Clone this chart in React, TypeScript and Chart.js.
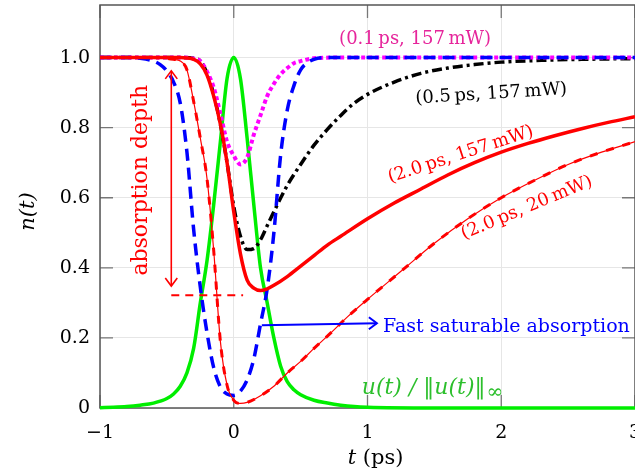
import React, { useEffect, useRef } from "react";
import { Chart, registerables } from "chart.js";

Chart.register(...registerables);

// ---------- data ----------
const tPulse = [-1, -0.9, -0.8, -0.7, -0.6, -0.5, -0.45, -0.4, -0.35, -0.3, -0.25, -0.2, -0.15, -0.1, -0.05, 0, 0.05, 0.1, 0.15, 0.2, 0.25, 0.3, 0.35, 0.4, 0.45, 0.5, 0.6, 0.7, 0.8, 0.9, 1.0, 1.5, 2, 2.5, 3];
const nPulse = [0.001, 0.002, 0.004, 0.008, 0.014, 0.027, 0.04, 0.062, 0.1, 0.17, 0.3, 0.42, 0.58, 0.76, 0.94, 1.0, 0.94, 0.77, 0.58, 0.4, 0.3, 0.2, 0.12, 0.075, 0.052, 0.038, 0.022, 0.014, 0.008, 0.004, 0.002, 0, 0, 0, 0];

const tFast = [-1, -0.8, -0.7, -0.6, -0.55, -0.5, -0.45, -0.4, -0.35, -0.3, -0.25, -0.2, -0.15, -0.1, -0.05, 0, 0.05, 0.1, 0.15, 0.2, 0.25, 0.3, 0.35, 0.4, 0.45, 0.5, 0.55, 0.6, 0.7, 1, 2, 3];
const nFast = [1, 1, 0.998, 0.99, 0.98, 0.962, 0.93, 0.87, 0.73, 0.51, 0.345, 0.215, 0.115, 0.06, 0.04, 0.036, 0.048, 0.08, 0.14, 0.24, 0.34, 0.5, 0.72, 0.85, 0.92, 0.965, 0.985, 0.995, 1, 1, 1, 1];

const t01 = [-1, -0.4, -0.3, -0.25, -0.2, -0.15, -0.1, -0.05, 0, 0.05, 0.1, 0.15, 0.2, 0.25, 0.3, 0.35, 0.4, 0.45, 0.5, 0.6, 0.8, 1, 2, 3];
const n01 = [1, 1, 0.997, 0.99, 0.96, 0.915, 0.84, 0.76, 0.72, 0.695, 0.715, 0.78, 0.835, 0.89, 0.925, 0.952, 0.97, 0.984, 0.99, 0.998, 1, 1, 1, 1];

const t05 = [-1, -0.4, -0.3, -0.25, -0.2, -0.15, -0.1, -0.05, 0, 0.05, 0.1, 0.15, 0.2, 0.25, 0.3, 0.4, 0.5, 0.6, 0.7, 0.8, 0.9, 1.0, 1.2, 1.4, 1.6, 1.8, 2.0, 2.3, 2.6, 3];
const n05 = [1, 1, 0.998, 0.99, 0.955, 0.895, 0.81, 0.7, 0.575, 0.49, 0.452, 0.455, 0.48, 0.52, 0.56, 0.635, 0.695, 0.75, 0.795, 0.835, 0.87, 0.895, 0.93, 0.955, 0.97, 0.98, 0.987, 0.992, 0.995, 0.997];

const t20a = [-1, -0.4, -0.35, -0.3, -0.25, -0.2, -0.15, -0.1, -0.05, 0, 0.05, 0.1, 0.15, 0.2, 0.25, 0.3, 0.4, 0.5, 0.6, 0.7, 0.8, 1.0, 1.2, 1.4, 1.6, 1.8, 2.0, 2.2, 2.4, 2.6, 2.8, 3];
const n20a = [1, 1, 0.999, 0.995, 0.982, 0.95, 0.89, 0.81, 0.7, 0.56, 0.44, 0.365, 0.342, 0.335, 0.34, 0.35, 0.375, 0.405, 0.435, 0.465, 0.49, 0.54, 0.585, 0.625, 0.665, 0.7, 0.73, 0.755, 0.777, 0.797, 0.815, 0.831];

const t20b = [-1, -0.6, -0.5, -0.45, -0.4, -0.35, -0.3, -0.25, -0.2, -0.15, -0.1, -0.05, 0, 0.05, 0.1, 0.2, 0.3, 0.4, 0.5, 0.6, 0.7, 0.85, 1.0, 1.25, 1.5, 1.75, 2.0, 2.25, 2.5, 2.75, 3];
const n20b = [1, 1, 0.998, 0.995, 0.99, 0.965, 0.875, 0.77, 0.655, 0.45, 0.19, 0.065, 0.022, 0.013, 0.016, 0.035, 0.062, 0.1, 0.133, 0.17, 0.205, 0.26, 0.31, 0.39, 0.47, 0.54, 0.6, 0.65, 0.695, 0.73, 0.76];

const xTicks = [-1, 0, 1, 2, 3];
const xTickLabels = ["\u22121", "0", "1", "2", "3"];
const yTicks = [0, 0.2, 0.4, 0.6, 0.8, 1.0];
const yTickLabels = ["0", "0.2", "0.4", "0.6", "0.8", "1.0"];

const FONT = '"DejaVu Serif"';

const pts = (xs: number[], ys: number[]) => xs.map((x, i) => ({ x, y: ys[i] }));

function arrowHead(ctx: CanvasRenderingContext2D, x: number, y: number, dir: number) {
  ctx.save();
  ctx.translate(x, y);
  ctx.rotate(dir);
  ctx.beginPath();
  ctx.moveTo(-8, -6);
  ctx.quadraticCurveTo(-2, -1.5, 0, 0);
  ctx.quadraticCurveTo(-2, 1.5, -8, 6);
  ctx.stroke();
  ctx.restore();
}

function rotText(ctx: CanvasRenderingContext2D, text: string, x: number, y: number, deg: number, font: string, color: string) {
  ctx.save();
  ctx.translate(x, y);
  ctx.rotate((deg * Math.PI) / 180);
  ctx.font = font;
  ctx.fillStyle = color;
  ctx.textAlign = "center";
  ctx.textBaseline = "middle";
  ctx.fillText(text, 0, 0);
  ctx.restore();
}

const annotPlugin = {
  id: "annot",
  beforeDatasetsDraw(chart: any) {
    const { ctx, chartArea: a, scales } = chart;
    const x = scales.x, y = scales.y;
    ctx.save();
    ctx.strokeStyle = "#777";
    ctx.lineWidth = 1.3;
    const L = 13;
    ctx.beginPath();
    xTicks.forEach((v) => {
      const p = x.getPixelForValue(v);
      ctx.moveTo(p, a.top); ctx.lineTo(p, a.top + L);
      ctx.moveTo(p, a.bottom); ctx.lineTo(p, a.bottom - L);
    });
    yTicks.forEach((v) => {
      const p = y.getPixelForValue(v);
      ctx.moveTo(a.left, p); ctx.lineTo(a.left + L, p);
      ctx.moveTo(a.right, p); ctx.lineTo(a.right - L, p);
    });
    ctx.stroke();
    ctx.strokeStyle = "#555";
    ctx.lineWidth = 1.5;
    ctx.strokeRect(a.left, a.top, a.right - a.left, a.bottom - a.top);
    ctx.restore();
  },
  afterDatasetsDraw(chart: any) {
    const { ctx, chartArea: a, scales } = chart;
    const X = (v: number) => scales.x.getPixelForValue(v);
    const Y = (v: number) => scales.y.getPixelForValue(v);
    ctx.save();

    // absorption depth arrow
    ctx.strokeStyle = "#ff0000";
    ctx.lineWidth = 1.6;
    const ax = X(-0.467);
    ctx.beginPath();
    ctx.moveTo(ax, Y(0.962)); ctx.lineTo(ax, Y(0.348));
    ctx.stroke();
    arrowHead(ctx, ax, Y(0.962), -Math.PI / 2);
    arrowHead(ctx, ax, Y(0.348), Math.PI / 2);
    // dashed level line
    ctx.lineWidth = 2;
    ctx.setLineDash([8, 6]);
    ctx.beginPath();
    ctx.moveTo(X(-0.467), Y(0.322)); ctx.lineTo(X(0.07), Y(0.322));
    ctx.stroke();
    ctx.setLineDash([]);
    rotText(ctx, "absorption depth", X(-0.691), Y(0.65), -90, `22px ${FONT}`, "#ff0000");

    // fast saturable absorption arrow
    ctx.strokeStyle = "#0000ff";
    ctx.lineWidth = 2;
    ctx.beginPath();
    ctx.moveTo(X(0.21), Y(0.236)); ctx.lineTo(X(1.07), Y(0.242));
    ctx.stroke();
    arrowHead(ctx, X(1.07), Y(0.242), 0);
    ctx.font = `19px ${FONT}`;
    ctx.fillStyle = "#0000ff";
    ctx.textAlign = "left";
    ctx.textBaseline = "alphabetic";
    ctx.fillText("Fast saturable absorption", X(1.116), Y(0.217));

    // curve labels
    rotText(ctx, "(0.1\u2009ps, 157\u2009mW)", X(1.356), Y(1.051), 0, `18px ${FONT}`, "#e6249b");
    rotText(ctx, "(0.5\u2009ps, 157\u2009mW)", X(1.925), Y(0.896), -3.5, `18px ${FONT}`, "#000000");
    rotText(ctx, "(2.0\u2009ps, 157\u2009mW)", X(1.697), Y(0.723), -18, `18px ${FONT}`, "#ff0000");
    rotText(ctx, "(2.0\u2009ps, 20\u2009mW)", X(2.191), Y(0.571), -22.7, `18px ${FONT}`, "#ff0000");

    // pulse label
    ctx.fillStyle = "#2cbf2c";
    ctx.textAlign = "left";
    ctx.textBaseline = "alphabetic";
    ctx.font = `italic 22px ${FONT}`;
    const gx = X(0.957), gy = Y(0.041);
    const main = "u(t) / \u2016u(t)\u2016";
    ctx.fillText(main, gx, gy);
    const w = ctx.measureText(main).width;
    ctx.font = `20px ${FONT}`;
    ctx.fillText("\u221e", gx + w + 1, gy + 4);

    // axis titles
    ctx.fillStyle = "#000";
    ctx.font = `italic 21px ${FONT}`;
    const w1 = ctx.measureText("t").width;
    ctx.font = `21px ${FONT}`;
    const w2 = ctx.measureText(" (ps)").width;
    const cx = X(1.06) - (w1 + w2) / 2;
    const by = a.bottom + 56;
    ctx.font = `italic 21px ${FONT}`;
    ctx.fillText("t", cx, by);
    ctx.font = `21px ${FONT}`;
    ctx.fillText(" (ps)", cx + w1, by);
    rotText(ctx, "n(t)", a.left - 71, (a.top + a.bottom) / 2 + 5, -90, `italic 21px ${FONT}`, "#000");

    ctx.restore();
  },
};

export default function App() {
  const ref = useRef<HTMLCanvasElement>(null);
  useEffect(() => {
    if (!ref.current) return;
    const common = { pointRadius: 0, borderCapStyle: "butt", cubicInterpolationMode: "monotone", clip: false, fill: false } as any;
    const chart = new Chart(ref.current, {
      type: "line",
      data: {
        datasets: [
          { ...common, label: "(2.0 ps, 157 mW)", data: pts(t20a, n20a), borderColor: "#ff0000", borderWidth: 3.5 },
          { ...common, label: "(2.0 ps, 20 mW) dashes", data: pts(t20b, n20b), borderColor: "#ff0000", borderWidth: 3, borderDash: [8, 9] },
          { ...common, label: "(2.0 ps, 20 mW)", data: pts(t20b, n20b), borderColor: "#ff0000", borderWidth: 1.2 },
          { ...common, label: "Fast saturable absorption", data: pts(tFast, nFast), borderColor: "#0000ff", borderWidth: 3.5, borderDash: [12, 7] },
          { ...common, label: "(0.1 ps, 157 mW)", data: pts(t01, n01), borderColor: "#ff00ff", borderWidth: 4, borderDash: [4, 3] },
          { ...common, label: "(0.5 ps, 157 mW)", data: pts(t05, n05), borderColor: "#000000", borderWidth: 3.5, borderDash: [10, 4, 3, 4] },
          { ...common, label: "u(t)/||u(t)||", data: pts(tPulse, nPulse), borderColor: "#00ee00", borderWidth: 3.5 },
        ],
      },
      options: {
        animation: false,
        responsive: false,
        devicePixelRatio: 1,
        layout: { padding: { top: 5, left: 0, right: 0, bottom: 0 } },
        plugins: { legend: { display: false }, tooltip: { enabled: false } },
        scales: {
          x: {
            type: "linear",
            min: -1,
            max: 3,
            afterBuildTicks: (s: any) => { s.ticks = xTicks.map((v) => ({ value: v })); },
            afterFit: (s: any) => { s.height = 63; s.paddingLeft = 0; s.paddingRight = 0; },
            ticks: {
              autoSkip: false,
              maxRotation: 0,
              padding: 14,
              color: "#000",
              font: { family: "DejaVu Serif", size: 19 },
              callback: (v: any) => xTickLabels[xTicks.indexOf(Number(v))] ?? "",
            },
            grid: { color: "#e6e6e6", lineWidth: 1, drawTicks: false },
            border: { display: false },
          },
          y: {
            type: "linear",
            min: 0,
            max: 1.15,
            afterBuildTicks: (s: any) => { s.ticks = yTicks.map((v) => ({ value: v })); },
            afterFit: (s: any) => { s.width = 100; s.paddingTop = 0; s.paddingBottom = 0; },
            ticks: {
              padding: 10,
              color: "#000",
              font: { family: "DejaVu Serif", size: 19 },
              callback: (v: any) => {
                const i = yTicks.findIndex((t) => Math.abs(t - Number(v)) < 1e-6);
                return i >= 0 ? yTickLabels[i] : "";
              },
            },
            grid: { color: "#e6e6e6", lineWidth: 1, drawTicks: false },
            border: { display: false },
          },
        },
      } as any,
      plugins: [annotPlugin],
    });
    return () => chart.destroy();
  }, []);
  return (
    <div style={{ position: "fixed", left: 0, top: 0, width: 635, height: 471, background: "#fff" }}>
      <canvas ref={ref} width={635} height={471} style={{ display: "block" }} />
    </div>
  );
}
